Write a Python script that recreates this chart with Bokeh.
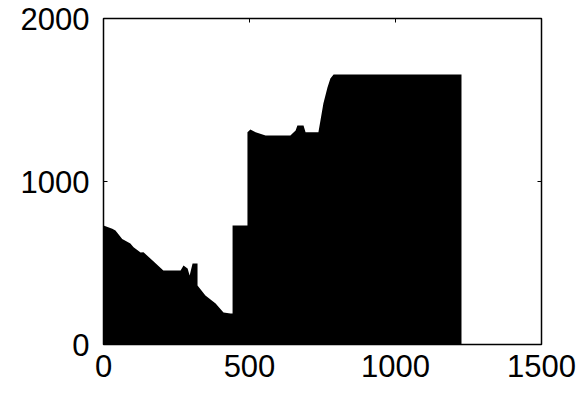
from bokeh.plotting import figure
from bokeh.models import Range1d, FixedTicker, LinearAxis
from bokeh.embed import file_html
from bokeh.resources import INLINE

# stepped outline of the filled area (x, y)
xs = [0, 30, 41, 64, 92, 103, 127, 137, 168, 205, 264, 274, 288, 295, 305, 322, 322,
      349, 384, 411, 435, 442, 442, 493, 493, 503, 521, 555, 640, 658, 664, 685, 692,
      736, 743, 753, 767, 777, 788, 1226]
ys = [730, 710, 699, 648, 620, 597, 564, 566, 515, 454, 454, 485, 466, 423, 497, 497, 362,
      301, 252, 196, 190, 190, 730, 730, 1302, 1319, 1302, 1282, 1282, 1313, 1344, 1344, 1302,
      1302, 1374, 1479, 1577, 1632, 1656, 1656]
x_ticks = [0, 500, 1000, 1500]
y_ticks = [0, 1000, 2000]

p = figure(width=584, height=400, output_backend="svg", toolbar_location=None,
           x_range=Range1d(0, 1500), y_range=Range1d(0, 2000),
           x_axis_location=None, y_axis_location=None)
p.min_border_left = 103
p.min_border_right = 43
p.min_border_top = 18
p.min_border_bottom = 56
p.background_fill_color = "white"
p.border_fill_color = "white"
p.outline_line_color = "black"
p.outline_line_width = 1.5
p.grid.visible = False

p.varea(x=xs + [xs[-1]], y1=[0] * (len(xs) + 1), y2=ys + [0], fill_color="black")

FONT = "Liberation Sans"

def mk(ticks, show_labels):
    ax = LinearAxis(ticker=FixedTicker(ticks=ticks))
    ax.major_tick_in = 4
    ax.major_tick_out = 0
    ax.minor_tick_in = 0
    ax.minor_tick_out = 0
    ax.major_tick_line_color = "black"
    ax.axis_line_color = "black"
    ax.major_label_text_font = FONT
    ax.major_label_text_color = "black"
    if show_labels:
        ax.major_label_text_font_size = "31px"
    else:
        ax.major_label_text_font_size = "0px"
        ax.major_label_standoff = 0
        ax.major_label_text_alpha = 0
    return ax

left = mk(y_ticks, True)
left.major_label_standoff = 14
bottom = mk(x_ticks, True)
bottom.major_label_standoff = 10
top = mk(x_ticks, False)
right = mk(y_ticks, False)

p.add_layout(left, "left")
p.add_layout(bottom, "below")
p.add_layout(top, "above")
p.add_layout(right, "right")

open("out.html", "w").write(file_html(p, INLINE))
